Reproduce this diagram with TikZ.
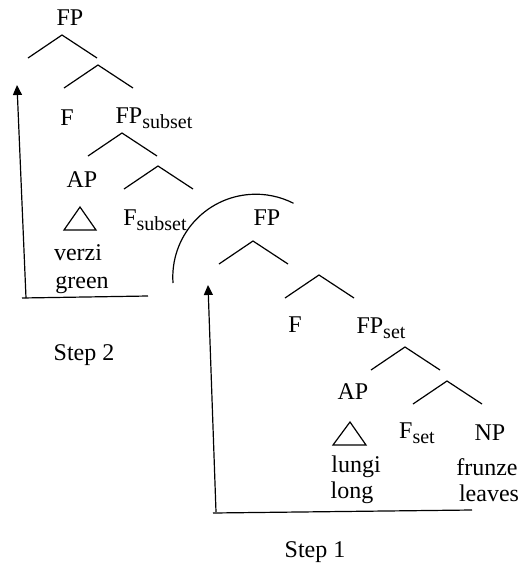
\documentclass[tikz,border=0pt]{standalone}
\usepackage{fontspec}
\setmainfont{Liberation Serif}
\usetikzlibrary{arrows.meta,positioning}
\newcommand{\lowtag}[1]{\raisebox{-0.45ex}{\fontsize{10}{10}\selectfont #1}}

\begin{document}
\begin{tikzpicture}[x=0.5pt,y=-0.5pt, word/.style={inner sep=0pt, font=\fontsize{12}{14}\selectfont}, branch/.style={semithick}, tri/.style={semithick}, rail/.style={semithick}, tip/.style={-{Triangle[length=5pt,width=4.5pt]}}]
\useasboundingbox (0,0) rectangle (521,563);

% step 2 tree
\node[word] (fp2) at (70,18) {FP};
\coordinate (a1) at (62,35);
\coordinate (a2) at (98,65);
\node[word] (f2) at (67,118) {F};
\node[word] (fpsub) at (154,118) {FP\lowtag{subset}};
\coordinate (a3) at (122,133);
\coordinate (a4) at (158,166);
\node[word] (ap2) at (82,180) {AP};
\node[word] (fsub) at (155,220) {F\lowtag{subset}};
\coordinate (t2) at (80,207);
\node[word] (verzi) at (78,253) {verzi};
\node[word] (green) at (82,285) {green};
\foreach \a in {a1,a2,a3,a4}
  \draw[branch] (\a) ++(-34,23) -- (\a) -- ++(35,23);
\draw[tri] (t2) -- ++(16,23) -- ++(-32,0) -- cycle;

\coordinate (low2) at (26,298);
\coordinate (top2) at (17,85);
\coordinate (end2) at (148,296);
\draw[rail,tip] (low2) -- (top2);
\draw[rail] (22,298) -- (end2);
\node[word] (step2) at (84,355) {Step 2};

% the hook between the trees
\coordinate (hook) at (173,283);
\draw[semithick] (hook) arc[start angle=176, end angle=297, radius=83];

% step 1 tree
\node[word] (fp1) at (267,218) {FP};
\coordinate (b1) at (253,241);
\coordinate (b2) at (319,275);
\node[word] (f1) at (295,325) {F};
\node[word] (fpset) at (381,328) {FP\lowtag{set}};
\coordinate (b3) at (405,347);
\coordinate (b4) at (447,381);
\node[word] (ap1) at (353,392) {AP};
\node[word] (fset) at (417,433) {F\lowtag{set}};
\node[word] (np) at (490,433) {NP};
\coordinate (t1) at (350,422);
\node[word] (lungi) at (356,467) {lungi};
\node[word] (long) at (352,493) {long};
\node[word] (frunze) at (487,467) {frunze};
\node[word] (leaves) at (489,493) {leaves};
\foreach \b in {b1,b2,b3,b4}
  \draw[branch] (\b) ++(-34,23) -- (\b) -- ++(35,23);
\draw[tri] (t1) -- ++(16,23) -- ++(-33,0) -- cycle;

\coordinate (low1) at (216,512);
\coordinate (top1) at (208,285);
\coordinate (end1) at (472,510);
\draw[rail,tip] (low1) -- (top1);
\draw[rail] (213,513) -- (end1);
\node[word] (step1) at (315,552) {Step 1};
\end{tikzpicture}
\end{document}
